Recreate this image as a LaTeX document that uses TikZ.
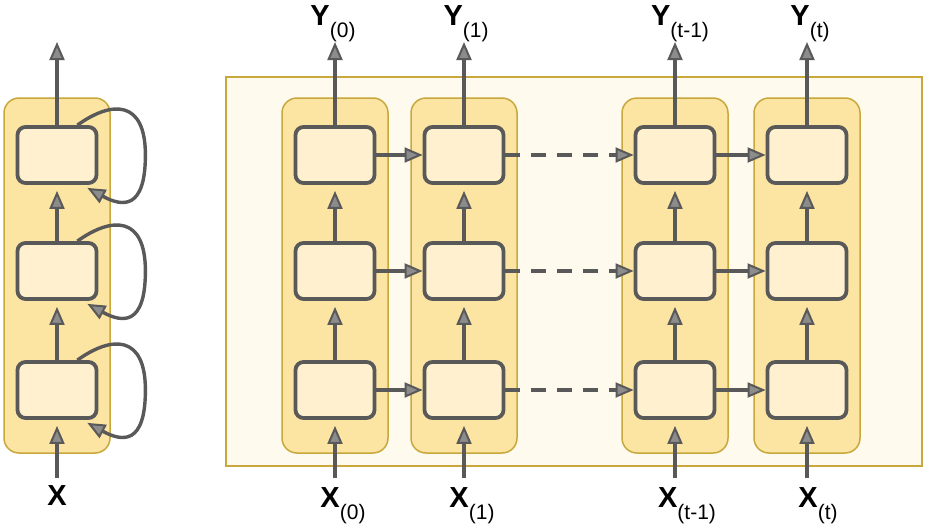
\documentclass[tikz,border=0pt]{standalone}
\usepackage{fontspec}
\setmainfont{Liberation Sans}
\usetikzlibrary{arrows.meta, calc}

\definecolor{linegray}{HTML}{595959}
\definecolor{tipgray}{HTML}{8C8C8C}
\definecolor{colfill}{HTML}{FCE4A2}
\definecolor{coledge}{HTML}{C8A83C}
\definecolor{cellfill}{HTML}{FFF1CF}
\definecolor{bigfill}{HTML}{FFFAEE}

\newcommand{\seqlbl}[2]{{\bfseries #1}\raisebox{-12pt}{\fontsize{21}{21}\selectfont #2}}

\tikzset{
  cellbox/.style={draw=linegray, line width=3.8pt, fill=cellfill, rounded corners=8pt,
    minimum width=79pt, minimum height=56pt, inner sep=0pt},
  colbox/.style={draw=coledge, line width=1.5pt, fill=colfill, rounded corners=15pt,
    minimum width=106pt, minimum height=355pt, inner sep=0pt},
  flow/.style={draw=linegray, line width=3.4pt,
    -{Triangle[length=18pt,width=15pt,fill=tipgray,line width=2pt]}},
  gap/.style={flow, dash pattern=on 15pt off 11pt},
  seqtext/.style={font=\fontsize{29}{30}\selectfont, anchor=base, inner sep=0pt}
}

\begin{document}
\begin{tikzpicture}[x=1pt, y=-1pt]
\useasboundingbox (0,0) rectangle (927,528);

% Unrolled network frame
\node[draw=coledge, line width=1.5pt, fill=bigfill, minimum width=696pt, minimum height=389pt,
  inner sep=0pt] (frame) at (574,271.5) {};

% Folded network on the left
\node[colbox] (kL) at (57,275.5) {};
\node[cellbox] (hL-1) at (57,390) {};
\node[cellbox] (hL-2) at (57,271) {};
\node[cellbox] (hL-3) at (57,155) {};
\coordinate (xinL) at (57,478);
\coordinate (youtL) at (57,42);
\node[seqtext] (xL) at (57,505) {\bfseries X};

\draw[flow, shorten >=6pt] (xinL) -- (hL-1);
\draw[flow, shorten >=6pt] (hL-1) -- (hL-2);
\draw[flow, shorten >=6pt] (hL-2) -- (hL-3);
\draw[flow] (hL-3) -- (youtL);

% Feedback loops
\foreach \r in {1,2,3} {
  \draw[flow] ($(hL-\r.north east)+(-21,0)$) .. controls +(35,-25) and +(0,-55) ..
    ($(hL-\r.east)+(47,0)$) .. controls +(0,55) and +(35,19) .. ($(hL-\r.south east)+(-11,3)$);
}

% Time steps
\foreach \t/\x in {0/335,1/464,2/675,3/807} {
  \node[colbox] (k\t) at (\x,275.5) {};
  \node[cellbox] (h\t-1) at (\x,390) {};
  \node[cellbox] (h\t-2) at (\x,271) {};
  \node[cellbox] (h\t-3) at (\x,155) {};
  \coordinate (xin\t) at (\x,478);
  \coordinate (yout\t) at (\x,42);
  \draw[flow, shorten >=6pt] (xin\t) -- (h\t-1);
  \draw[flow, shorten >=6pt] (h\t-1) -- (h\t-2);
  \draw[flow, shorten >=6pt] (h\t-2) -- (h\t-3);
  \draw[flow] (h\t-3) -- (yout\t);
}

% Connections between time steps
\foreach \r in {1,2,3} {
  \draw[flow] (h0-\r) -- (h1-\r);
  \draw[gap] (h1-\r) -- (h2-\r);
  \draw[flow] (h2-\r) -- (h3-\r);
}

% Outputs
\node[seqtext] (y0) at (333,25) {\seqlbl{Y}{(0)}};
\node[seqtext] (y1) at (466,25) {\seqlbl{Y}{(1)}};
\node[seqtext] (y2) at (680,25) {\seqlbl{Y}{(t-1)}};
\node[seqtext] (y3) at (810,25) {\seqlbl{Y}{(t)}};

% Inputs
\node[seqtext] (x0) at (343,507) {\seqlbl{X}{(0)}};
\node[seqtext] (x1) at (472,507) {\seqlbl{X}{(1)}};
\node[seqtext] (x2) at (687,507) {\seqlbl{X}{(t-1)}};
\node[seqtext] (x3) at (818,507) {\seqlbl{X}{(t)}};
\end{tikzpicture}
\end{document}
